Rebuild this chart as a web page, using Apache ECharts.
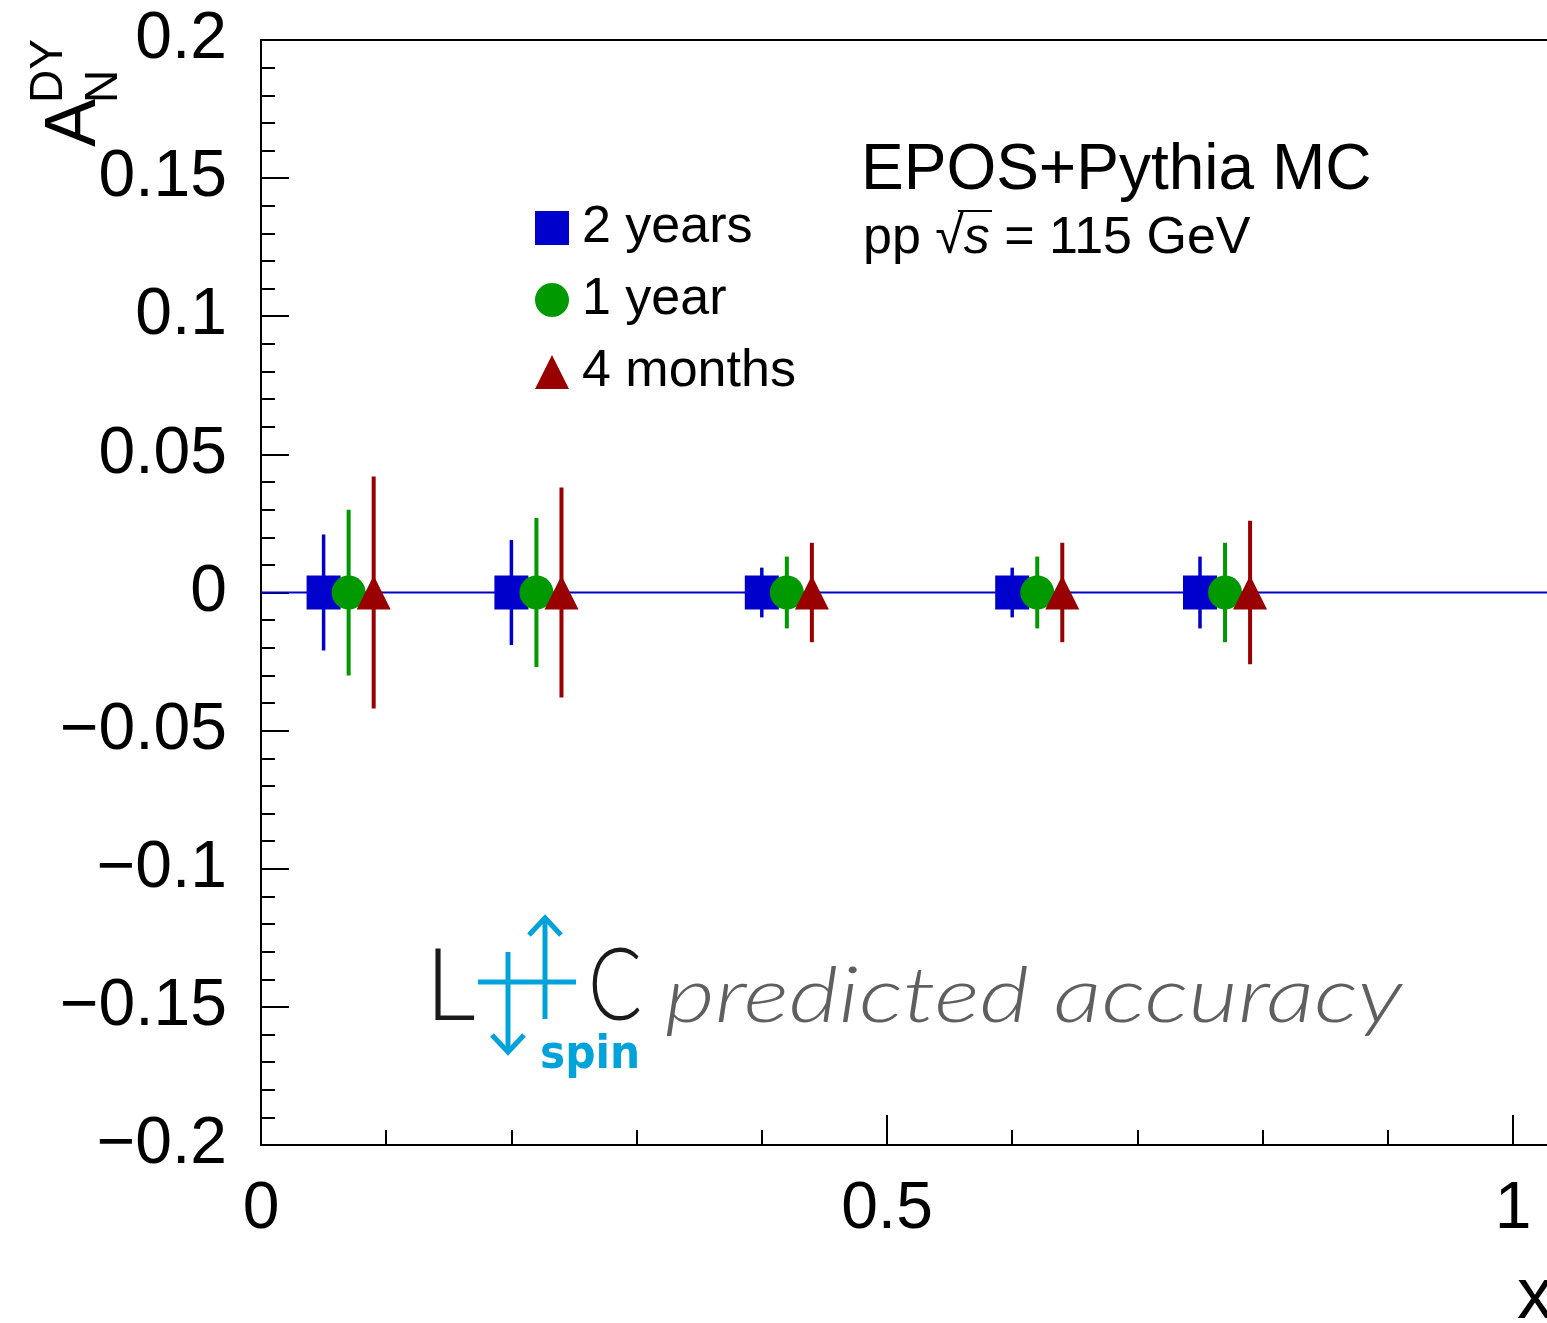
<!DOCTYPE html>
<html><head><meta charset="utf-8">
<script src="https://cdn.jsdelivr.net/npm/echarts@6/dist/echarts.min.js"></script>
<style>html,body{margin:0;padding:0;overflow:hidden;background:#fff}#c{width:1600px;height:1323px}</style>
</head><body><div id="c"></div>
<script>
// ---- data ----
const seriesNames = ['2 years', '1 year', '4 months'];
const xTwoYears = [0.050, 0.200, 0.400, 0.600, 0.750];
const yTwoYears = [0, 0, 0, 0, 0];
const eTwoYears = [0.021, 0.019, 0.009, 0.009, 0.013];
const xOneYear = [0.070, 0.220, 0.420, 0.620, 0.770];
const yOneYear = [0, 0, 0, 0, 0];
const eOneYear = [0.030, 0.027, 0.013, 0.013, 0.018];
const xFourMonths = [0.090, 0.240, 0.440, 0.640, 0.790];
const yFourMonths = [0, 0, 0, 0, 0];
const eFourMonths = [0.042, 0.038, 0.018, 0.018, 0.026];
const zeroLineX = [0, 1.05];
const xTickLabels = ['0', '0.5', '1'];

const colors = ['#0000cc', '#009900', '#990000'];
const symbols = ['rect', 'circle', 'triangle'];
const FONT = '"Liberation Sans", Arial, Helvetica, sans-serif';

const groups = [
  [xTwoYears, yTwoYears, eTwoYears],
  [xOneYear, yOneYear, eOneYear],
  [xFourMonths, yFourMonths, eFourMonths]
];

function fmtY(v) {
  const a = Math.abs(v);
  let s = String(+a.toFixed(2));
  return (v < -1e-9 ? '\u2212' : '') + s;
}
function fmtX(v) {
  const s = String(+v.toFixed(2));
  return xTickLabels.indexOf(s) >= 0 ? s : '';
}

const series = [];
series.push({
  type: 'line', data: zeroLineX.map(x => [x, 0]), symbol: 'none',
  lineStyle: { color: '#0000cc', width: 2 }, z: 1, silent: true
});
groups.forEach((g, k) => {
  const [xs, ys, es] = g;
  series.push({
    type: 'custom', z: 2 + k, silent: true,
    data: xs.map((x, i) => [x, ys[i] - es[i], ys[i] + es[i]]),
    encode: { x: 0, y: [1, 2] },
    renderItem: function (params, api) {
      const p1 = api.coord([api.value(0), api.value(1)]);
      const p2 = api.coord([api.value(0), api.value(2)]);
      return { type: 'line', shape: { x1: p1[0], y1: p1[1], x2: p2[0], y2: p2[1] },
        style: { stroke: colors[k], lineWidth: k === 0 ? 3.5 : 4 } };
    }
  });
});
groups.forEach((g, k) => {
  const [xs, ys] = g;
  series.push({
    type: 'scatter', name: seriesNames[k], z: 10 + k,
    symbol: symbols[k], symbolSize: 34,
    itemStyle: { color: colors[k], opacity: 1 },
    data: xs.map((x, i) => [x, ys[i]])
  });
});

const cyan = '#00a3d9';
const option = {
  animation: false,
  grid: { left: 261, top: 40, width: 1.05 * 1252, height: 1105, show: true,
    borderColor: '#000', borderWidth: 2, backgroundColor: 'transparent', outerBoundsMode: 'none' },
  xAxis: {
    type: 'value', min: 0, max: 1.05, interval: 0.5,
    axisLine: { onZero: false, lineStyle: { color: '#000', width: 2 } },
    axisTick: { inside: true, length: 30, lineStyle: { color: '#000', width: 2 } },
    minorTick: { show: true, splitNumber: 5, length: 15, lineStyle: { color: '#000', width: 2 } },
    splitLine: { show: false },
    axisLabel: { formatter: fmtX, fontSize: 66, fontFamily: FONT, color: '#000', margin: 32, showMaxLabel: false }
  },
  yAxis: {
    type: 'value', min: -0.2, max: 0.2, interval: 0.05,
    axisLine: { onZero: false, lineStyle: { color: '#000', width: 2 } },
    axisTick: { inside: true, length: 28, lineStyle: { color: '#000', width: 2 } },
    minorTick: { show: true, splitNumber: 5, length: 14, lineStyle: { color: '#000', width: 2 } },
    splitLine: { show: false },
    axisLabel: { formatter: fmtY, fontSize: 66, fontFamily: FONT, color: '#000', margin: 34 }
  },
  legend: {
    orient: 'vertical', left: 535, top: 202, padding: 0,
    itemWidth: 34, itemHeight: 34, itemGap: 20, selectedMode: false,
    data: seriesNames.map((n, k) => ({ name: n, icon: symbols[k] })),
    textStyle: { fontSize: 52, fontFamily: FONT, color: '#000', padding: [0, 0, 0, 8] }
  },
  graphic: [
    { type: 'group', x: 97, y: 147, rotation: Math.PI / 2, children: [
      { type: 'text', x: 0, y: -22, style: { text: 'A', font: '72px ' + FONT, fill: '#000', verticalAlign: 'middle' } },
      { type: 'text', x: 44, y: 7, style: { text: 'N', font: '46px ' + FONT, fill: '#000', verticalAlign: 'middle' } },
      { type: 'text', x: 44, y: -48, style: { text: 'DY', font: '46px ' + FONT, fill: '#000', verticalAlign: 'middle' } }
    ] },
    { type: 'text', x: 861, y: 171, style: { text: 'EPOS+Pythia MC', font: '64px ' + FONT, fill: '#000', verticalAlign: 'middle' } },
    { type: 'text', x: 863, y: 239, style: {
      text: '{n|pp }{r|\u221a}{s|s}{n| = 115 GeV}', verticalAlign: 'middle',
      rich: {
        n: { fontSize: 52, fontFamily: FONT, fill: '#000' },
        r: { fontSize: 52, fontFamily: FONT, fill: '#000', fontWeight: 'lighter' },
        s: { fontSize: 52, fontFamily: FONT, fill: '#000', fontStyle: 'italic' }
      } } },
    { type: 'line', shape: { x1: 958, y1: 211, x2: 992, y2: 211 }, style: { stroke: '#000', lineWidth: 2 } },
    { type: 'text', x: 1517, y: 1298, style: { text: 'x', font: '72px ' + FONT, fill: '#000', verticalAlign: 'middle' } },
    // logo
    { type: 'text', x: 425, y: 988, style: { text: 'L', font: '300 100px Lato, "Open Sans", sans-serif', fill: '#1a1a1a', verticalAlign: 'middle' } },
    { type: 'text', x: 588, y: 988, scaleX: 0.8, style: { text: 'C', font: '300 100px Lato, "Open Sans", sans-serif', fill: '#1a1a1a', verticalAlign: 'middle' } },
    { type: 'line', shape: { x1: 478, y1: 982, x2: 576, y2: 982 }, style: { stroke: cyan, lineWidth: 5 } },
    { type: 'line', shape: { x1: 508, y1: 952, x2: 508, y2: 1050 }, style: { stroke: cyan, lineWidth: 5 } },
    { type: 'polyline', shape: { points: [[492, 1035], [508, 1052], [524, 1035]] }, style: { stroke: cyan, lineWidth: 5, fill: null } },
    { type: 'line', shape: { x1: 545, y1: 919, x2: 545, y2: 1019 }, style: { stroke: cyan, lineWidth: 5 } },
    { type: 'polyline', shape: { points: [[529, 935], [545, 918], [561, 935]] }, style: { stroke: cyan, lineWidth: 5, fill: null } },
    { type: 'text', x: 540, y: 1056, style: { text: 'spin', font: 'bold 47px "DejaVu Sans Condensed", "Liberation Sans Narrow", sans-serif', fill: cyan, verticalAlign: 'middle' } },
    { type: 'text', x: 665, y: 997, scaleX: 1.25, style: { text: 'predicted accuracy', font: 'italic 300 77px Lato, "DejaVu Sans", sans-serif', fill: '#5f5f5f', verticalAlign: 'middle' } }
  ],
  series: series
};
const chart = echarts.init(document.getElementById('c'), null, { renderer: 'canvas' });
chart.setOption(option);
</script>
</body></html>
